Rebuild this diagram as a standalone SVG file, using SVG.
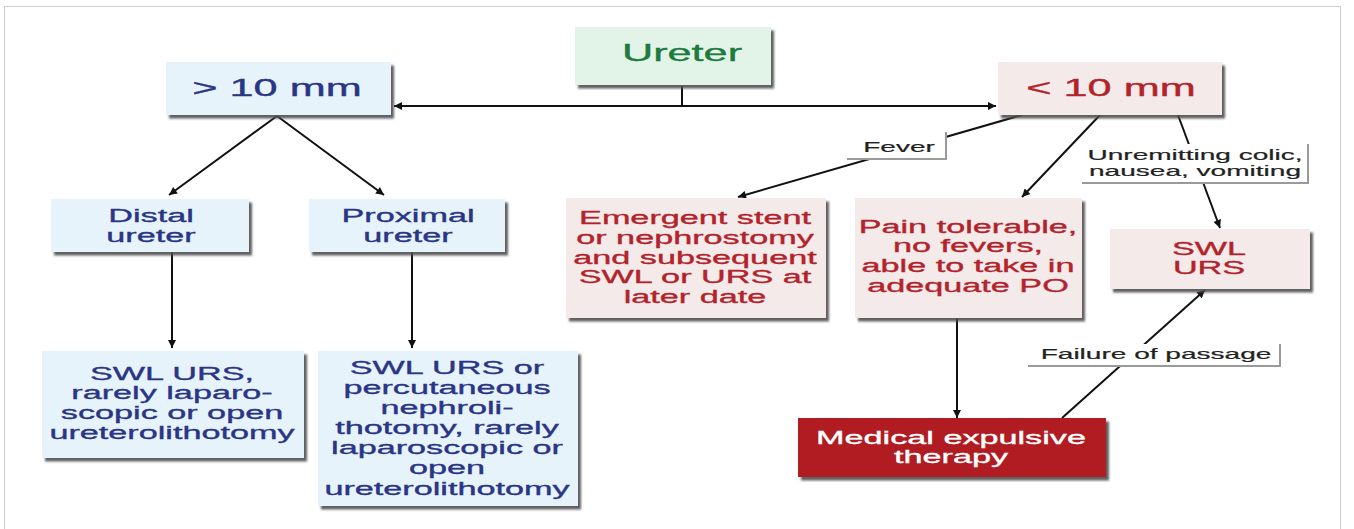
<svg xmlns="http://www.w3.org/2000/svg" width="1354" height="529" viewBox="0 0 1354 529">
<defs>
<style>
text{font-family:"Liberation Sans",Arial,sans-serif;text-anchor:middle;stroke-width:0.35}
.hd{font-size:23.5px}
.bd{font-size:19px}
.lb{font-size:15px;fill:#222;stroke:#222;stroke-width:0.2}
.blue{fill:#e6f3fb}
.pink{fill:#f4eaea}
.green{fill:#e2f4e8}
.dark{fill:#b01c22}
.tb{fill:#2a3585;stroke:#2a3585}
.tr{fill:#b3232b;stroke:#b3232b}
.tg{fill:#1d7a3e;stroke:#1d7a3e}
.tw{fill:#ffffff;stroke:#ffffff}
.box{filter:url(#sh)}
.ln{stroke:#111;stroke-width:2;fill:none}
.lbbox{fill:#fff}
.lbedge{stroke:#9a9a9a;stroke-width:2;fill:none}
</style>
<filter id="sh" x="-10%" y="-10%" width="130%" height="140%">
<feDropShadow dx="3" dy="3.5" stdDeviation="1" flood-color="#505050" flood-opacity="0.9"/>
</filter>
<marker id="ah" viewBox="0 0 10 10" refX="10" refY="5" markerWidth="9" markerHeight="8" markerUnits="userSpaceOnUse" orient="auto-start-reverse">
<path d="M0,0 L10,5 L0,10 z" fill="#111"/>
</marker>
</defs>
<rect x="4.5" y="6.5" width="1336" height="540" fill="#fff" stroke="#cfcfcf" stroke-width="1"/>

<g id="connectors">
<line class="ln" x1="682" y1="86" x2="682" y2="106"/>
<line class="ln" x1="394" y1="106" x2="996" y2="106" marker-start="url(#ah)" marker-end="url(#ah)"/>
<line class="ln" x1="277" y1="116" x2="169" y2="195" marker-end="url(#ah)"/>
<line class="ln" x1="277" y1="116" x2="384" y2="195" marker-end="url(#ah)"/>
<line class="ln" x1="172" y1="252" x2="172" y2="348" marker-end="url(#ah)"/>
<line class="ln" x1="412" y1="252" x2="412" y2="348" marker-end="url(#ah)"/>
<line class="ln" x1="1022" y1="115" x2="738" y2="197" marker-end="url(#ah)"/>
<line class="ln" x1="1100" y1="115" x2="1022" y2="197" marker-end="url(#ah)"/>
<line class="ln" x1="1178" y1="115" x2="1220" y2="228" marker-end="url(#ah)"/>
<line class="ln" x1="957" y1="318" x2="957" y2="418" marker-end="url(#ah)"/>
<line class="ln" x1="1062" y1="418" x2="1205" y2="290" marker-end="url(#ah)"/>
<g id="label-fever">
<rect class="lbbox" x="847" y="132" width="99" height="27"/>
<polyline class="lbedge" points="847,159 946,159 946,132"/>
<text class="lb" transform="translate(899,151.5) scale(1.87,1)">Fever</text>
</g>
<g id="label-unremitting">
<rect class="lbbox" x="1082" y="144" width="226" height="39"/>
<polyline class="lbedge" points="1082,183 1308,183 1308,144"/>
<text class="lb" transform="translate(1195,159.5) scale(1.87,1)"><tspan x="0">Unremitting colic,</tspan><tspan x="0" dy="17">nausea, vomiting</tspan></text>
</g>
<g id="label-failure">
<rect class="lbbox" x="1028" y="344" width="252" height="22"/>
<polyline class="lbedge" points="1028,366 1280,366 1280,344"/>
<text class="lb" transform="translate(1156,358.5) scale(1.87,1)">Failure of passage</text>
</g>
</g>

<g id="n-ureter">
<rect class="box green" x="575" y="27" width="196" height="58"/>
<text class="hd tg" transform="translate(682,61) scale(1.84,1)">Ureter</text>
</g>
<g id="n-gt10">
<rect class="box blue" x="166" y="62" width="225" height="53"/>
<text class="hd tb" transform="translate(277,96) scale(1.84,1)">&gt; 10 mm</text>
</g>
<g id="n-lt10">
<rect class="box pink" x="998" y="62" width="224" height="53"/>
<text class="hd tr" transform="translate(1111,96) scale(1.84,1)">&lt; 10 mm</text>
</g>
<g id="n-distal">
<rect class="box blue" x="51" y="199" width="198" height="53"/>
<text class="bd tb" transform="translate(151,222) scale(1.8,1)"><tspan x="0">Distal</tspan><tspan x="0" dy="20">ureter</tspan></text>
</g>
<g id="n-proximal">
<rect class="box blue" x="309" y="199" width="196" height="53"/>
<text class="bd tb" transform="translate(408,222) scale(1.8,1)"><tspan x="0">Proximal</tspan><tspan x="0" dy="20">ureter</tspan></text>
</g>
<g id="n-distal-tx">
<rect class="box blue" x="42" y="351" width="262" height="107"/>
<text class="bd tb" transform="translate(172,379.5) scale(1.8,1)"><tspan x="0">SWL URS,</tspan><tspan x="0" dy="20">rarely laparo-</tspan><tspan x="0" dy="20">scopic or open</tspan><tspan x="0" dy="20">ureterolithotomy</tspan></text>
</g>
<g id="n-proximal-tx">
<rect class="box blue" x="318" y="351" width="260" height="155"/>
<text class="bd tb" transform="translate(447,373.5) scale(1.8,1)"><tspan x="0">SWL URS or</tspan><tspan x="0" dy="20.2">percutaneous</tspan><tspan x="0" dy="20.2">nephroli-</tspan><tspan x="0" dy="20.2">thotomy, rarely</tspan><tspan x="0" dy="20.2">laparoscopic or</tspan><tspan x="0" dy="20.2">open</tspan><tspan x="0" dy="20.2">ureterolithotomy</tspan></text>
</g>
<g id="n-emergent">
<rect class="box pink" x="566" y="198" width="260" height="120"/>
<text class="bd tr" transform="translate(695,224.3) scale(1.8,1)"><tspan x="0">Emergent stent</tspan><tspan x="0" dy="19.7">or nephrostomy</tspan><tspan x="0" dy="19.7">and subsequent</tspan><tspan x="0" dy="19.7">SWL or URS at</tspan><tspan x="0" dy="19.7">later date</tspan></text>
</g>
<g id="n-pain">
<rect class="box pink" x="855" y="198" width="227" height="120"/>
<text class="bd tr" transform="translate(968,232.7) scale(1.8,1)"><tspan x="0">Pain tolerable,</tspan><tspan x="0" dy="19.7">no fevers,</tspan><tspan x="0" dy="19.7">able to take in</tspan><tspan x="0" dy="19.7">adequate PO</tspan></text>
</g>
<g id="n-swl">
<rect class="box pink" x="1110" y="229" width="200" height="60"/>
<text class="bd tr" transform="translate(1209,254.5) scale(1.8,1)"><tspan x="0">SWL</tspan><tspan x="0" dy="19.5">URS</tspan></text>
</g>
<g id="n-met">
<rect class="box dark" x="798" y="418" width="308" height="59"/>
<text class="bd tw" transform="translate(951,443.5) scale(1.8,1)"><tspan x="0">Medical expulsive</tspan><tspan x="0" dy="20">therapy</tspan></text>
</g>
</svg>
